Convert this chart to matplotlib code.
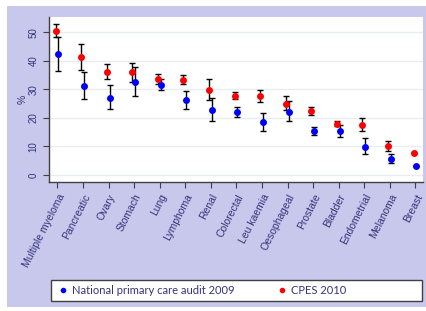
import matplotlib
matplotlib.use("Agg")
import matplotlib.pyplot as plt
from matplotlib.patches import Rectangle
import numpy as np

cancers = ["Multiple myeloma", "Pancreatic", "Ovary", "Stomach", "Lung", "Lymphoma",
           "Renal", "Colorectal", "Leu kaemia", "Oesophageal", "Prostate", "Bladder",
           "Endometrial", "Melanoma", "Breast"]

# National primary care audit 2009: value, lower, upper
audit = [42.4, 31.3, 27.1, 32.6, 31.5, 26.3, 22.8, 21.9, 18.4, 22.1, 15.3, 15.2, 9.7, 5.6, 3.2]
audit_lo = [36.3, 26.5, 23.1, 27.7, 29.6, 23.2, 18.9, 20.3, 15.4, 18.9, 14.0, 13.1, 7.2, 4.2, 3.2]
audit_hi = [48.4, 36.1, 31.5, 37.9, 33.6, 29.5, 27.1, 23.6, 21.6, 25.7, 16.6, 17.6, 12.8, 7.4, 3.2]

# CPES 2010
cpes = [50.5, 41.2, 36.2, 35.9, 33.6, 33.3, 29.6, 27.7, 27.5, 24.9, 22.4, 17.9, 17.5, 10.0, 7.5]
cpes_lo = [48.2, 36.9, 33.7, 32.6, 31.7, 31.7, 26.1, 26.5, 25.6, 22.6, 21.1, 17.0, 15.3, 8.2, 7.5]
cpes_hi = [52.9, 45.7, 38.7, 39.3, 35.5, 35.1, 33.6, 29.1, 29.8, 27.5, 23.7, 18.8, 19.8, 11.9, 7.5]

navy = "#33337a"
panel = "#c8c8ec"

fig = plt.figure(figsize=(4.26, 3.11), dpi=100, facecolor="white")
fig.patches.append(Rectangle((7 / 426, 1 - 307 / 311), 419 / 426, 301 / 311,
                             transform=fig.transFigure, facecolor=panel,
                             edgecolor="none", zorder=-10))
# legend frame
fig.patches.append(Rectangle((51 / 426, 1 - 301 / 311), 371 / 426, 21 / 311,
                             transform=fig.transFigure, facecolor="white",
                             edgecolor="#404040", linewidth=1, zorder=-5))

ax = fig.add_axes([49 / 426, 1 - 182 / 311, 374 / 426, 165 / 311])
ax.set_zorder(1)
ax.set_facecolor("white")

x = np.arange(len(cancers))
a = np.array(audit)
c = np.array(cpes)
a_err = [a - np.array(audit_lo), np.array(audit_hi) - a]
c_err = [c - np.array(cpes_lo), np.array(cpes_hi) - c]

ax.errorbar(x - 0.07, c, yerr=c_err, fmt="none", ecolor="black", elinewidth=1,
            capsize=2, capthick=1, zorder=2)
ax.errorbar(x + 0.04, a, yerr=a_err, fmt="none", ecolor="black", elinewidth=1,
            capsize=2, capthick=1, zorder=2)
ax.plot(x - 0.07, c, "o", color="#ff0000", markersize=5, markeredgewidth=0, zorder=3,
        label="CPES 2010")
ax.plot(x + 0.04, a, "o", color="#0000ff", markersize=5, markeredgewidth=0, zorder=3,
        label="National primary care audit 2009")

ax.set_xlim(-0.33, 14.3)
ax.set_ylim(-2.5, 55.3)
ax.set_yticks([0, 10, 20, 30, 40, 50])
ax.yaxis.grid(True, color="#e6eef0", linewidth=1)
ax.set_axisbelow(True)

ax.set_xticks(x)
ax.set_xticklabels(cancers, rotation=63, ha="right", rotation_mode="anchor",
                   fontsize=7.5, color=navy, family="Liberation Sans")
for lab in ax.get_yticklabels():
    lab.set_rotation(90)
    lab.set_va("center")
    lab.set_family("Liberation Sans")
ax.tick_params(axis="y", labelsize=7, labelcolor=navy, length=4, color="#404040")
ax.tick_params(axis="x", length=4, color="#404040")
ax.set_ylabel("%", color=navy, fontsize=7.5, family="Liberation Sans", labelpad=1)

for s in ["top", "right"]:
    ax.spines[s].set_visible(False)
for s in ["left", "bottom"]:
    ax.spines[s].set_color("#404040")
    ax.spines[s].set_linewidth(1)

h, l = ax.get_legend_handles_labels()
leg = fig.legend(h[::-1], l[::-1], loc="center left",
                 bbox_to_anchor=(53 / 426, 1 - 290.5 / 311),
                 ncol=2, borderaxespad=0, frameon=False,
                 prop={"family": "Lato", "size": 8}, handletextpad=0.3,
                 markerscale=0.8, handlelength=1, columnspacing=3.8)
for t in leg.get_texts():
    t.set_color(navy)

fig.savefig("out.png", dpi=100, facecolor="white")
